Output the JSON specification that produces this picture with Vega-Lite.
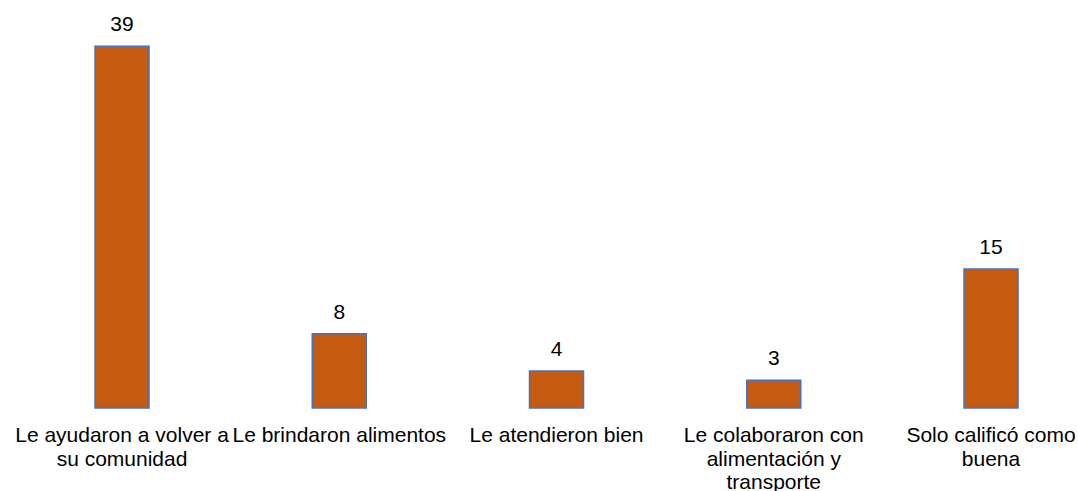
{
  "$schema": "https://vega.github.io/schema/vega-lite/v6.json",
  "width": 1078,
  "height": 408,
  "autosize": {"type": "none"},
  "padding": {"top": 0, "left": 0, "right": 0, "bottom": 83},
  "background": "white",
  "config": {
    "view": {"stroke": null},
    "font": "Liberation Sans"
  },
  "data": {
    "values": [
      {"categoria": "Le ayudaron a volver a su comunidad", "valor": 39},
      {"categoria": "Le brindaron alimentos", "valor": 8},
      {"categoria": "Le atendieron bien", "valor": 4},
      {"categoria": "Le colaboraron con alimentación y transporte", "valor": 3},
      {"categoria": "Solo calificó como buena", "valor": 15}
    ]
  },
  "encoding": {
    "x": {
      "field": "categoria",
      "type": "nominal",
      "sort": null,
      "scale": {"paddingInner": 0.7514, "paddingOuter": 0.3567, "align": 0.613},
      "axis": {
        "title": null,
        "domain": false,
        "ticks": false,
        "labelAngle": 0,
        "labelFontSize": 21,
        "labelColor": "#000000",
        "labelFont": "Liberation Sans",
        "labelBaseline": "top",
        "labelPadding": 16.5,
        "labelLineHeight": 23.5,
        "labelLimit": 400,
        "labelOverlap": false,
        "labelExpr": "datum.label == 'Le ayudaron a volver a su comunidad' ? ['Le ayudaron a volver a', 'su comunidad'] : datum.label == 'Le colaboraron con alimentación y transporte' ? ['Le colaboraron con', 'alimentación y', 'transporte'] : datum.label == 'Solo calificó como buena' ? ['Solo calificó como', 'buena'] : datum.label"
      }
    },
    "y": {
      "field": "valor",
      "type": "quantitative",
      "scale": {"domain": [0, 44], "nice": false},
      "axis": null
    }
  },
  "layer": [
    {
      "mark": {"type": "bar", "fill": "#C55A11", "stroke": "#4472C4", "strokeWidth": 1.5}
    },
    {
      "mark": {"type": "text", "baseline": "alphabetic", "dy": -15, "fontSize": 21, "color": "#000000", "font": "Liberation Sans"},
      "encoding": {"text": {"field": "valor", "type": "quantitative"}}
    }
  ]
}
